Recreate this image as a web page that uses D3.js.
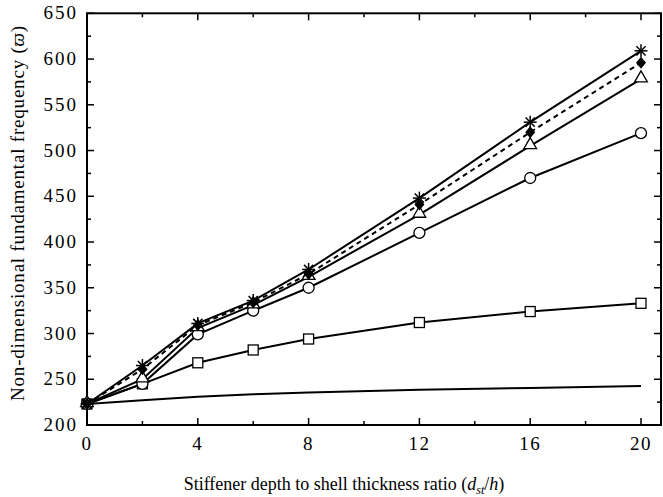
<!DOCTYPE html>
<html><head><meta charset="utf-8">
<script src="https://cdn.jsdelivr.net/npm/d3@7"></script>
<style>body{margin:0;background:#fff}svg{display:block}</style>
</head><body><svg id="c" width="663" height="497" font-family="'Liberation Serif', 'Times New Roman', serif"></svg>
<script>
const xs = [0, 2, 4, 6, 8, 12, 16, 20];
const plainVals   = [223, 227, 231, 233.5, 235.5, 238.5, 240.5, 242.5];
const squareVals  = [223, 245, 268, 282, 294, 312, 324, 333];
const circleVals  = [223, 245, 299, 325, 350, 410, 470, 519];
const triVals     = [223, 250, 306, 331, 362, 430, 505, 578];
const diamondVals = [223, 261, 309, 334, 365, 441, 520, 596];
const starVals    = [223, 265, 311, 336, 370, 448, 531, 609];
const xMajor = [0, 4, 8, 12, 16, 20];
const xMinor = [2, 6, 10, 14, 18];
const yMajor = [200, 250, 300, 350, 400, 450, 500, 550, 600, 650];
const yMinor = [225, 275, 325, 375, 425, 475, 525, 575, 625];

const svg = d3.select("#c");
const x = d3.scaleLinear().domain([0, 20]).range([87, 641]);
const y = d3.scaleLinear().domain([200, 650]).range([425, 13.3]);
const xR = 661;

const g = svg.append("g");
g.append("rect").attr("x", 87).attr("y", y(650)).attr("width", xR - 87).attr("height", y(200) - y(650))
  .attr("fill", "none").attr("stroke", "#000").attr("stroke-width", 2);

xMajor.forEach(v => {
  g.append("line").attr("x1", x(v)).attr("x2", x(v)).attr("y1", y(200)).attr("y2", y(200) - 7).attr("stroke", "#000").attr("stroke-width", 1.5);
  g.append("line").attr("x1", x(v)).attr("x2", x(v)).attr("y1", y(650)).attr("y2", y(650) + 7).attr("stroke", "#000").attr("stroke-width", 1.5);
  g.append("text").attr("x", x(v)).attr("y", 450).attr("text-anchor", "middle").attr("font-size", 19)
    .attr("letter-spacing", 1.5).text(v);
});
xMinor.forEach(v => {
  g.append("line").attr("x1", x(v)).attr("x2", x(v)).attr("y1", y(200)).attr("y2", y(200) - 4).attr("stroke", "#000").attr("stroke-width", 1.5);
  g.append("line").attr("x1", x(v)).attr("x2", x(v)).attr("y1", y(650)).attr("y2", y(650) + 4).attr("stroke", "#000").attr("stroke-width", 1.5);
});
yMajor.forEach(v => {
  g.append("line").attr("x1", 87).attr("x2", 94).attr("y1", y(v)).attr("y2", y(v)).attr("stroke", "#000").attr("stroke-width", 1.5);
  g.append("line").attr("x1", xR).attr("x2", xR - 7).attr("y1", y(v)).attr("y2", y(v)).attr("stroke", "#000").attr("stroke-width", 1.5);
  g.append("text").attr("x", 78).attr("y", y(v) + 6).attr("text-anchor", "end").attr("font-size", 19)
    .attr("letter-spacing", 2).text(v);
});
yMinor.forEach(v => {
  g.append("line").attr("x1", 87).attr("x2", 91).attr("y1", y(v)).attr("y2", y(v)).attr("stroke", "#000").attr("stroke-width", 1.5);
  g.append("line").attr("x1", xR).attr("x2", xR - 4).attr("y1", y(v)).attr("y2", y(v)).attr("stroke", "#000").attr("stroke-width", 1.5);
});

const xt = svg.append("text").attr("x", 344).attr("y", 490).attr("text-anchor", "middle").attr("font-size", 18);
xt.append("tspan").text("Stiffener depth to shell thickness ratio (");
xt.append("tspan").attr("font-style", "italic").text("d");
xt.append("tspan").attr("font-style", "italic").attr("font-size", 12).attr("dy", 4).text("st");
xt.append("tspan").attr("dy", -4).text("/");
xt.append("tspan").attr("font-style", "italic").text("h");
xt.append("tspan").text(")");

const yt = svg.append("text").attr("transform", "translate(24,213) rotate(-90)").attr("text-anchor", "middle")
  .attr("font-size", 19).attr("letter-spacing", 0.8);
yt.append("tspan").text("Non-dimensional fundamental frequency (");
yt.append("tspan").attr("font-style", "italic").text("ϖ");
yt.append("tspan").text(")");

const line = d3.line().x(d => x(d[0])).y(d => y(d[1]));
function series(vals, dash) {
  const pts = xs.map((v, i) => [v, vals[i]]);
  svg.append("path").datum(pts).attr("d", line).attr("fill", "none").attr("stroke", "#000")
    .attr("stroke-width", 2).attr("stroke-dasharray", dash || null);
  return pts;
}
series(plainVals);
const sq = series(squareVals);
const ci = series(circleVals);
const tr = series(triVals);
const di = series(diamondVals, "5,4");
const st = series(starVals);

const mk = svg.append("g");
sq.forEach(p => mk.append("rect").attr("x", x(p[0]) - 5).attr("y", y(p[1]) - 5).attr("width", 10).attr("height", 10)
  .attr("fill", "#fff").attr("stroke", "#000").attr("stroke-width", 1.3));
ci.forEach(p => mk.append("circle").attr("cx", x(p[0])).attr("cy", y(p[1])).attr("r", 5.5)
  .attr("fill", "#fff").attr("stroke", "#000").attr("stroke-width", 1.3));
tr.forEach(p => mk.append("path").attr("d", d3.symbol(d3.symbolTriangle, 70)())
  .attr("transform", `translate(${x(p[0])},${y(p[1]) - 1})`).attr("fill", "#fff").attr("stroke", "#000").attr("stroke-width", 1.3));
di.forEach(p => mk.append("path").attr("d", "M0,-6L5,0L0,6L-5,0Z")
  .attr("transform", `translate(${x(p[0])},${y(p[1])})`).attr("fill", "#000"));
st.forEach(p => {
  const gx = mk.append("g").attr("transform", `translate(${x(p[0])},${y(p[1])})`);
  [0, 45, 90, 135].forEach(a => gx.append("line").attr("x1", -6.5).attr("x2", 6.5).attr("y1", 0).attr("y2", 0)
    .attr("transform", `rotate(${a})`).attr("stroke", "#000").attr("stroke-width", 1.5));
});
</script></body></html>
